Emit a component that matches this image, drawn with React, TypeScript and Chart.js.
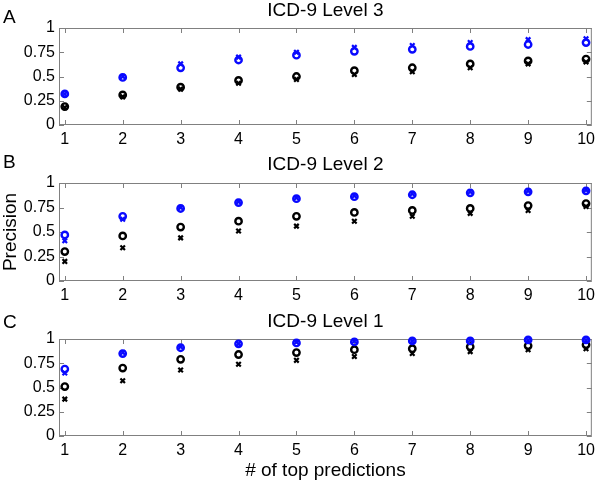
import React, { useEffect, useRef } from 'react';
import { Chart, registerables } from 'chart.js';

Chart.register(...registerables);

const xValues = [1, 2, 3, 4, 5, 6, 7, 8, 9, 10];
const xTicks = [1, 2, 3, 4, 5, 6, 7, 8, 9, 10];
const yTicks = [0, 0.25, 0.5, 0.75, 1];
const yTickLabels = ['0', '0.25', '0.5', '0.75', '1'];

const panelLetters = ['A', 'B', 'C'];
const panelTitles = ['ICD-9 Level 3', 'ICD-9 Level 2', 'ICD-9 Level 1'];
const yAxisLabel = 'Precision';
const xAxisLabel = '# of top predictions';

const l3BlueO = [0.32, 0.49, 0.59, 0.67, 0.72, 0.76, 0.78, 0.81, 0.83, 0.85];
const l3BlueX = [0.32, 0.5, 0.63, 0.7, 0.75, 0.8, 0.82, 0.85, 0.88, 0.89];
const l3BlackO = [0.19, 0.31, 0.39, 0.46, 0.5, 0.56, 0.59, 0.63, 0.66, 0.68];
const l3BlackX = [0.18, 0.29, 0.37, 0.43, 0.47, 0.52, 0.55, 0.59, 0.63, 0.65];

const l2BlueO = [0.47, 0.66, 0.74, 0.8, 0.84, 0.86, 0.88, 0.9, 0.91, 0.92];
const l2BlueX = [0.41, 0.63, 0.75, 0.81, 0.85, 0.87, 0.89, 0.91, 0.92, 0.93];
const l2BlackO = [0.3, 0.46, 0.55, 0.61, 0.66, 0.7, 0.72, 0.74, 0.77, 0.79];
const l2BlackX = [0.2, 0.34, 0.44, 0.51, 0.56, 0.61, 0.66, 0.69, 0.72, 0.76];

const l1BlueO = [0.69, 0.85, 0.91, 0.95, 0.96, 0.97, 0.98, 0.98, 0.99, 0.99];
const l1BlueX = [0.65, 0.86, 0.92, 0.95, 0.97, 0.98, 0.98, 0.99, 0.99, 0.99];
const l1BlackO = [0.51, 0.7, 0.79, 0.84, 0.86, 0.89, 0.9, 0.92, 0.93, 0.94];
const l1BlackX = [0.38, 0.57, 0.68, 0.74, 0.78, 0.82, 0.85, 0.87, 0.89, 0.9];

const FONT = "'Liberation Sans', Arial, sans-serif";
const BLUE = 'rgb(10,10,255)';
const BLACK = '#000000';
const GRAY = '#808080';

type PanelDef = {
  top: number;
  height: number;
  areaTop: number;
  areaHeight: number;
  letter: string;
  title: string;
  titleBase: number;
  letterBase: number;
  blueO: number[];
  blueX: number[];
  blackO: number[];
  blackX: number[];
  showY: boolean;
  showX: boolean;
};

const panels: PanelDef[] = [
  { top: 0, height: 150, areaTop: 28, areaHeight: 97, letter: panelLetters[0], title: panelTitles[0], titleBase: 16, letterBase: 23, blueO: l3BlueO, blueX: l3BlueX, blackO: l3BlackO, blackX: l3BlackX, showY: false, showX: false },
  { top: 150, height: 155, areaTop: 33, areaHeight: 98, letter: panelLetters[1], title: panelTitles[1], titleBase: 20, letterBase: 18, blueO: l2BlueO, blueX: l2BlueX, blackO: l2BlackO, blackX: l2BlackX, showY: true, showX: false },
  { top: 305, height: 176, areaTop: 34, areaHeight: 97, letter: panelLetters[2], title: panelTitles[2], titleBase: 22, letterBase: 23, blueO: l1BlueO, blueX: l1BlueX, blackO: l1BlackO, blackX: l1BlackX, showY: false, showX: true },
];

function toPts(vals: number[]) {
  return xValues.map((x, i) => ({ x, y: vals[i] }));
}

function Panel({ p }: { p: PanelDef }) {
  const ref = useRef<HTMLCanvasElement | null>(null);
  useEffect(() => {
    if (!ref.current) return;
    const decor = {
      id: 'decor',
      beforeDatasetsDraw(chart: any) {
        const { ctx, chartArea } = chart;
        const { left, right, top, bottom } = chartArea;
        ctx.save();
        ctx.strokeStyle = GRAY;
        ctx.lineWidth = 1;
        ctx.strokeRect(left + 0.5, top + 0.5, right - left - 1, bottom - top - 1);
        ctx.beginPath();
        const xs = chart.scales.x;
        const ys = chart.scales.y;
        xTicks.forEach((v) => {
          const px = Math.round(xs.getPixelForValue(v)) + 0.5;
          ctx.moveTo(px, bottom);
          ctx.lineTo(px, bottom - 5);
          ctx.moveTo(px, top);
          ctx.lineTo(px, top + 5);
        });
        yTicks.forEach((v) => {
          const py = Math.round(ys.getPixelForValue(v)) + 0.5;
          ctx.moveTo(left, py);
          ctx.lineTo(left + 5, py);
          ctx.moveTo(right, py);
          ctx.lineTo(right - 5, py);
        });
        ctx.stroke();
        ctx.restore();
      },
      afterDraw(chart: any) {
        const { ctx, chartArea } = chart;
        ctx.save();
        ctx.fillStyle = '#000';
        ctx.textBaseline = 'alphabetic';
        ctx.font = `19px ${FONT}`;
        ctx.textAlign = 'left';
        ctx.fillText(p.letter, 3, p.letterBase);
        ctx.textAlign = 'center';
        ctx.fillText(p.title, (chartArea.left + chartArea.right) / 2, p.titleBase);
        if (p.showX) {
          ctx.fillText(xAxisLabel, (chartArea.left + chartArea.right) / 2, 171);
        }
        if (p.showY) {
          ctx.translate(16, (chartArea.top + chartArea.bottom) / 2);
          ctx.rotate(-Math.PI / 2);
          ctx.fillText(yAxisLabel, 0, 0);
        }
        ctx.restore();
      },
    };
    const circle = (data: number[], color: string) => ({
      data: toPts(data),
      pointStyle: 'circle',
      pointRadius: 3.2,
      pointBorderWidth: 2.4,
      pointBorderColor: color,
      pointBackgroundColor: 'rgba(0,0,0,0)',
      showLine: false,
      clip: false,
    });
    const cross = (data: number[], color: string) => ({
      data: toPts(data),
      pointStyle: 'crossRot',
      pointRadius: 3.2,
      pointBorderWidth: 2.2,
      pointBorderColor: color,
      pointBackgroundColor: color,
      showLine: false,
      clip: false,
    });
    const chart = new Chart(ref.current, {
      type: 'scatter',
      data: {
        datasets: [
          cross(p.blueX, BLUE),
          circle(p.blueO, BLUE),
          cross(p.blackX, BLACK),
          circle(p.blackO, BLACK),
        ] as any,
      },
      options: {
        animation: false,
        responsive: false,
        maintainAspectRatio: false,
        events: [],
        layout: { padding: { top: p.areaTop, right: 3, left: 0, bottom: 0 } },
        plugins: { legend: { display: false }, tooltip: { enabled: false }, title: { display: false } },
        scales: {
          x: {
            type: 'linear',
            min: 0.9,
            max: 10.1,
            grid: { display: false, drawTicks: false },
            border: { display: false },
            afterBuildTicks: (s: any) => { s.ticks = xTicks.map((v) => ({ value: v })); },
            afterFit: (s: any) => { s.height = p.height - p.areaTop - p.areaHeight; },
            ticks: {
              color: '#000',
              font: { family: FONT, size: 16 },
              padding: 5,
              maxRotation: 0,
              autoSkip: false,
              callback: (v: any) => String(v),
            },
          },
          y: {
            type: 'linear',
            min: 0,
            max: 1,
            grid: { display: false, drawTicks: false },
            border: { display: false },
            afterBuildTicks: (s: any) => { s.ticks = yTicks.map((v) => ({ value: v })); },
            afterFit: (s: any) => { s.width = 59; },
            ticks: {
              color: '#000',
              font: { family: FONT, size: 16 },
              padding: 4,
              autoSkip: false,
              callback: (v: any) => yTickLabels[yTicks.indexOf(Number(v))] ?? String(v),
            },
          },
        },
      } as any,
      plugins: [decor],
    });
    return () => chart.destroy();
  }, [p]);
  return (
    <canvas
      ref={ref}
      width={600}
      height={p.height}
      style={{ position: 'absolute', left: 0, top: p.top, width: 600, height: p.height }}
    />
  );
}

export default function App() {
  return (
    <div style={{ position: 'absolute', left: 0, top: 0, width: 600, height: 481, background: '#fff' }}>
      {panels.map((p) => (
        <Panel key={p.letter} p={p} />
      ))}
    </div>
  );
}
